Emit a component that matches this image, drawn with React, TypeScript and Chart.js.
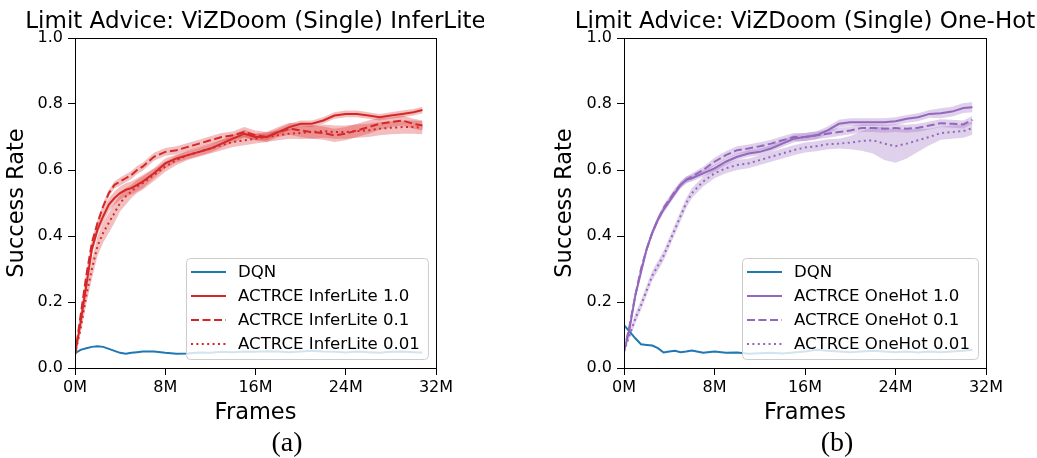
import React, { useEffect, useRef } from 'react';
import { Chart, registerables } from 'chart.js';

Chart.register(...registerables);

// Frames in millions
const FRAMES_M = [0, 0.5, 1, 1.5, 2, 2.5, 3, 3.5, 4, 4.5, 5, 5.5, 6, 7, 8, 9, 10, 11, 12, 13, 14, 15, 16, 17, 18, 19, 20, 21, 22, 23, 24, 25, 26, 27, 28, 29, 30, 30.8];

const X_TICKS = [0, 8, 16, 24, 32];
const Y_TICKS = [0, 0.2, 0.4, 0.6, 0.8, 1.0];

// Panel (a): InferLite
const DQN_A = [0.045, 0.055, 0.06, 0.064, 0.066, 0.064, 0.058, 0.052, 0.046, 0.043, 0.046, 0.048, 0.05,
  0.05, 0.046, 0.043, 0.044, 0.047, 0.046, 0.049, 0.048, 0.05, 0.049, 0.051, 0.05, 0.048, 0.05, 0.052, 0.05, 0.049, 0.047, 0.05, 0.048, 0.046, 0.049, 0.05, 0.048, 0.047];
const INFERLITE_10 = [0.04, 0.14, 0.25, 0.36, 0.42, 0.46, 0.495, 0.515, 0.53, 0.54, 0.545, 0.555, 0.565,
  0.59, 0.62, 0.635, 0.645, 0.655, 0.665, 0.68, 0.695, 0.71, 0.70, 0.70, 0.715, 0.73, 0.74, 0.74, 0.75, 0.765, 0.77, 0.77, 0.765, 0.76, 0.765, 0.77, 0.775, 0.782];
const INFERLITE_01 = [0.04, 0.16, 0.28, 0.38, 0.44, 0.49, 0.53, 0.555, 0.565, 0.575, 0.585, 0.60, 0.61,
  0.64, 0.655, 0.66, 0.67, 0.68, 0.69, 0.70, 0.705, 0.715, 0.705, 0.70, 0.715, 0.725, 0.72, 0.715, 0.712, 0.705, 0.71, 0.72, 0.73, 0.74, 0.745, 0.75, 0.74, 0.735];
const INFERLITE_001 = [0.04, 0.12, 0.22, 0.30, 0.37, 0.41, 0.44, 0.47, 0.50, 0.52, 0.535, 0.55, 0.56,
  0.585, 0.61, 0.63, 0.645, 0.655, 0.665, 0.675, 0.685, 0.69, 0.695, 0.70, 0.705, 0.71, 0.712, 0.715, 0.718, 0.715, 0.715, 0.718, 0.72, 0.725, 0.728, 0.73, 0.73, 0.728];
const INFERLITE_10_SPREAD = [0, 0.01, 0.015, 0.015, 0.015, 0.02, 0.02, 0.02, 0.02, 0.02, 0.02, 0.02, 0.02,
  0.015, 0.015, 0.012, 0.012, 0.012, 0.012, 0.012, 0.012, 0.012, 0.01, 0.01, 0.01, 0.01, 0.01, 0.01, 0.01, 0.01, 0.01, 0.01, 0.01, 0.01, 0.01, 0.01, 0.01, 0.01];
const INFERLITE_01_SPREAD = [0, 0.01, 0.01, 0.01, 0.01, 0.01, 0.01, 0.01, 0.012, 0.012, 0.012, 0.012, 0.012,
  0.012, 0.012, 0.012, 0.012, 0.012, 0.012, 0.012, 0.012, 0.015, 0.015, 0.015, 0.015, 0.018, 0.02, 0.02, 0.02, 0.02, 0.02, 0.02, 0.02, 0.018, 0.015, 0.015, 0.015, 0.015];
const INFERLITE_001_SPREAD = [0, 0.015, 0.025, 0.03, 0.03, 0.03, 0.03, 0.03, 0.025, 0.025, 0.02, 0.02, 0.02,
  0.018, 0.015, 0.015, 0.015, 0.015, 0.015, 0.015, 0.015, 0.015, 0.015, 0.015, 0.015, 0.015, 0.018, 0.02, 0.02, 0.02, 0.02, 0.02, 0.02, 0.02, 0.02, 0.02, 0.02, 0.02];

// Panel (b): OneHot
const DQN_B = [0.13, 0.11, 0.09, 0.072, 0.07, 0.068, 0.06, 0.047, 0.05, 0.052, 0.048, 0.05, 0.053,
  0.046, 0.05, 0.046, 0.047, 0.043, 0.045, 0.046, 0.044, 0.047, 0.05, 0.055, 0.052, 0.05, 0.048, 0.05, 0.052, 0.05, 0.048, 0.05, 0.047, 0.05, 0.048, 0.05, 0.052, 0.055];
const ONEHOT_10 = [0.05, 0.12, 0.22, 0.29, 0.36, 0.41, 0.45, 0.48, 0.505, 0.53, 0.555, 0.57, 0.575,
  0.59, 0.605, 0.625, 0.64, 0.65, 0.655, 0.665, 0.68, 0.695, 0.70, 0.705, 0.72, 0.74, 0.745, 0.745, 0.745, 0.745, 0.748, 0.755, 0.76, 0.77, 0.772, 0.777, 0.788, 0.79];
const ONEHOT_01 = [0.05, 0.13, 0.22, 0.30, 0.36, 0.41, 0.45, 0.485, 0.51, 0.535, 0.555, 0.57, 0.58,
  0.60, 0.625, 0.645, 0.66, 0.665, 0.672, 0.68, 0.69, 0.70, 0.70, 0.705, 0.71, 0.715, 0.72, 0.727, 0.727, 0.725, 0.727, 0.725, 0.728, 0.735, 0.742, 0.74, 0.738, 0.752];
const ONEHOT_001 = [0.05, 0.10, 0.15, 0.19, 0.235, 0.28, 0.31, 0.34, 0.38, 0.42, 0.46, 0.50, 0.53,
  0.565, 0.59, 0.605, 0.615, 0.62, 0.63, 0.64, 0.65, 0.66, 0.668, 0.672, 0.678, 0.68, 0.683, 0.688, 0.69, 0.68, 0.672, 0.68, 0.69, 0.70, 0.712, 0.715, 0.718, 0.727];
const ONEHOT_10_SPREAD = [0, 0.01, 0.01, 0.01, 0.01, 0.01, 0.01, 0.01, 0.01, 0.01, 0.01, 0.01, 0.01,
  0.01, 0.01, 0.01, 0.01, 0.01, 0.01, 0.01, 0.01, 0.012, 0.012, 0.012, 0.012, 0.012, 0.012, 0.012, 0.012, 0.012, 0.012, 0.012, 0.012, 0.012, 0.015, 0.015, 0.015, 0.015];
const ONEHOT_01_SPREAD = [0, 0.01, 0.01, 0.01, 0.01, 0.01, 0.01, 0.01, 0.01, 0.01, 0.01, 0.01, 0.01,
  0.01, 0.012, 0.012, 0.012, 0.012, 0.012, 0.012, 0.012, 0.012, 0.012, 0.012, 0.012, 0.012, 0.012, 0.012, 0.012, 0.012, 0.012, 0.012, 0.012, 0.012, 0.012, 0.012, 0.012, 0.012];
const ONEHOT_001_SPREAD = [0, 0.01, 0.015, 0.015, 0.015, 0.015, 0.015, 0.015, 0.015, 0.015, 0.015, 0.015, 0.015,
  0.015, 0.015, 0.015, 0.015, 0.015, 0.015, 0.015, 0.015, 0.015, 0.015, 0.015, 0.015, 0.015, 0.02, 0.03, 0.04, 0.05, 0.05, 0.045, 0.035, 0.025, 0.02, 0.02, 0.02, 0.02];

const FONT = "'DejaVu Sans', 'Noto Sans', sans-serif";
const BLUE = '#1f77b4';
const RED = '#d62728';
const RED_BAND = 'rgba(214, 39, 40, 0.3)';
const PURPLE = '#9467bd';
const PURPLE_BAND = 'rgba(148, 103, 189, 0.3)';
const DASHED = [8, 3.5];
const DOTTED = [2, 3.4];

type SeriesDef = { label: string; values: number[]; spread?: number[]; color: string; band?: string; dash: number[]; order: number };
type PanelDef = { title: string; series: SeriesDef[]; left: number; width: number; padLeft: number; axisWidth: number; padRight: number };

const PANELS: PanelDef[] = [
  {
    title: 'Limit Advice: ViZDoom (Single) InferLite',
    left: 0, width: 484, padLeft: 0, axisWidth: 75, padRight: 48,
    series: [
      { label: 'DQN', values: DQN_A, color: BLUE, dash: [], order: 4 },
      { label: 'ACTRCE InferLite 1.0', values: INFERLITE_10, spread: INFERLITE_10_SPREAD, color: RED, band: RED_BAND, dash: [], order: 1 },
      { label: 'ACTRCE InferLite 0.1', values: INFERLITE_01, spread: INFERLITE_01_SPREAD, color: RED, band: RED_BAND, dash: DASHED, order: 2 },
      { label: 'ACTRCE InferLite 0.01', values: INFERLITE_001, spread: INFERLITE_001_SPREAD, color: RED, band: RED_BAND, dash: DOTTED, order: 3 },
    ],
  },
  {
    title: 'Limit Advice: ViZDoom (Single) One-Hot',
    left: 520, width: 517, padLeft: 28, axisWidth: 76, padRight: 51,
    series: [
      { label: 'DQN', values: DQN_B, color: BLUE, dash: [], order: 4 },
      { label: 'ACTRCE OneHot 1.0', values: ONEHOT_10, spread: ONEHOT_10_SPREAD, color: PURPLE, band: PURPLE_BAND, dash: [], order: 1 },
      { label: 'ACTRCE OneHot 0.1', values: ONEHOT_01, spread: ONEHOT_01_SPREAD, color: PURPLE, band: PURPLE_BAND, dash: DASHED, order: 2 },
      { label: 'ACTRCE OneHot 0.01', values: ONEHOT_001, spread: ONEHOT_001_SPREAD, color: PURPLE, band: PURPLE_BAND, dash: DOTTED, order: 3 },
    ],
  },
];

const CANVAS_H = 430;

function buildConfig(p: PanelDef): any {
  const datasets: any[] = [];
  p.series.forEach((s) => {
    if (s.spread) {
      datasets.push({
        label: s.label + ' upper',
        data: FRAMES_M.map((x, j) => ({ x, y: s.values[j] + s.spread![j] })),
        borderWidth: 0, pointRadius: 0, backgroundColor: s.band, borderColor: 'rgba(0,0,0,0)',
        fill: '+1', order: 10,
      });
      datasets.push({
        label: s.label + ' lower',
        data: FRAMES_M.map((x, j) => ({ x, y: s.values[j] - s.spread![j] })),
        borderWidth: 0, pointRadius: 0, borderColor: 'rgba(0,0,0,0)', fill: false, order: 10,
      });
    }
  });
  p.series.forEach((s) => {
    datasets.push({
      label: s.label,
      data: FRAMES_M.map((x, j) => ({ x, y: s.values[j] })),
      borderColor: s.color, borderWidth: 2, borderDash: s.dash, pointRadius: 0, fill: false,
      tension: 0, order: s.order, borderCapStyle: 'butt',
    });
  });

  const decor = {
    id: 'mplDecor',
    afterDatasetsDraw(chart: any) {
      const ctx = chart.ctx as CanvasRenderingContext2D;
      const a = chart.chartArea;
      ctx.save();
      // frame (spines)
      ctx.strokeStyle = '#000';
      ctx.lineWidth = 1;
      ctx.setLineDash([]);
      const l = Math.round(a.left) + 0.5, t = Math.round(a.top) + 0.5;
      const r = Math.round(a.right) + 0.5, b = Math.round(a.bottom) + 0.5;
      ctx.strokeRect(l, t, r - l, b - t);
      // legend
      ctx.font = `16.6px ${FONT}`;
      const textW = Math.max(...p.series.map((s) => ctx.measureText(s.label).width));
      const w = 52 + textW + 8;
      const h = 101;
      const x0 = Math.round(a.right - 8 - w);
      const y0 = Math.round(a.bottom - 9 - h);
      ctx.beginPath();
      (ctx as any).roundRect(x0 + 0.5, y0 + 0.5, w, h, 4);
      ctx.fillStyle = 'rgba(255,255,255,0.8)';
      ctx.fill();
      ctx.strokeStyle = '#cccccc';
      ctx.stroke();
      p.series.forEach((s, i) => {
        const cy = y0 + 14 + i * 24;
        ctx.beginPath();
        ctx.setLineDash(s.dash);
        ctx.lineCap = 'butt';
        ctx.strokeStyle = s.color;
        ctx.lineWidth = 2;
        ctx.moveTo(x0 + 5, cy);
        ctx.lineTo(x0 + 40, cy);
        ctx.stroke();
        ctx.setLineDash([]);
        ctx.fillStyle = '#000';
        ctx.textBaseline = 'middle';
        ctx.textAlign = 'left';
        ctx.fillText(s.label, x0 + 52, cy + 1);
      });
      // title
      ctx.font = `23px ${FONT}`;
      ctx.textAlign = 'center';
      ctx.textBaseline = 'alphabetic';
      ctx.fillStyle = '#000';
      ctx.fillText(p.title, (a.left + a.right) / 2, 27.5);
      ctx.restore();
    },
  };

  return {
    type: 'line',
    data: { datasets },
    plugins: [decor],
    options: {
      animation: false,
      responsive: false,
      devicePixelRatio: 1,
      events: [],
      layout: { padding: { left: p.padLeft, right: p.padRight, top: 38, bottom: 0 } },
      plugins: { legend: { display: false }, title: { display: false }, tooltip: { enabled: false } },
      scales: {
        x: {
          type: 'linear', min: 0, max: 32,
          afterBuildTicks: (s: any) => { s.ticks = X_TICKS.map((v) => ({ value: v })); },
          ticks: { callback: (v: any) => `${v}M`, font: { family: FONT, size: 16 }, color: '#000', padding: 3, maxRotation: 0, autoSkip: false },
          grid: { drawOnChartArea: false, drawTicks: true, tickLength: 7, color: '#000', tickColor: '#000', tickWidth: 1 },
          border: { display: false },
          title: { display: true, text: 'Frames', font: { family: FONT, size: 22.5 }, color: '#000', padding: { top: 0, bottom: 3 } },
          afterFit: (s: any) => { s.height = CANVAS_H - 368; },
        },
        y: {
          type: 'linear', min: 0, max: 1,
          afterBuildTicks: (s: any) => { s.ticks = Y_TICKS.map((v) => ({ value: v })); },
          ticks: { callback: (v: any) => Number(v).toFixed(1), font: { family: FONT, size: 16 }, color: '#000', padding: 5, autoSkip: false },
          grid: { drawOnChartArea: false, drawTicks: true, tickLength: 7, color: '#000', tickColor: '#000', tickWidth: 1 },
          border: { display: false },
          title: { display: true, text: 'Success Rate', font: { family: FONT, size: 22.5 }, color: '#000', padding: { top: 4, bottom: 0 } },
          afterFit: (s: any) => { s.width = p.axisWidth; },
        },
      },
    },
  };
}

function Panel({ p }: { p: PanelDef }) {
  const ref = useRef<HTMLCanvasElement>(null);
  useEffect(() => {
    const chart = new Chart(ref.current as HTMLCanvasElement, buildConfig(p));
    return () => chart.destroy();
  }, [p]);
  return (
    <canvas
      ref={ref}
      width={p.width}
      height={CANVAS_H}
      style={{ position: 'absolute', left: p.left, top: 0, width: p.width, height: CANVAS_H, display: 'block' }}
    />
  );
}

const CAPTIONS = [
  { text: '(a)', x: 287 },
  { text: '(b)', x: 837 },
];

export default function App() {
  return (
    <div style={{ position: 'fixed', left: 0, top: 0, width: 1037, height: 458, background: '#fff', overflow: 'hidden' }}>
      {PANELS.map((p, i) => <Panel key={i} p={p} />)}
      {CAPTIONS.map((c, i) => (
        <div
          key={i}
          style={{
            position: 'absolute', left: c.x, top: 428, transform: 'translateX(-50%)',
            fontFamily: "'Liberation Serif', 'Times New Roman', serif", fontSize: 28, lineHeight: '28px', color: '#000', whiteSpace: 'nowrap',
          }}
        >
          {c.text}
        </div>
      ))}
    </div>
  );
}
